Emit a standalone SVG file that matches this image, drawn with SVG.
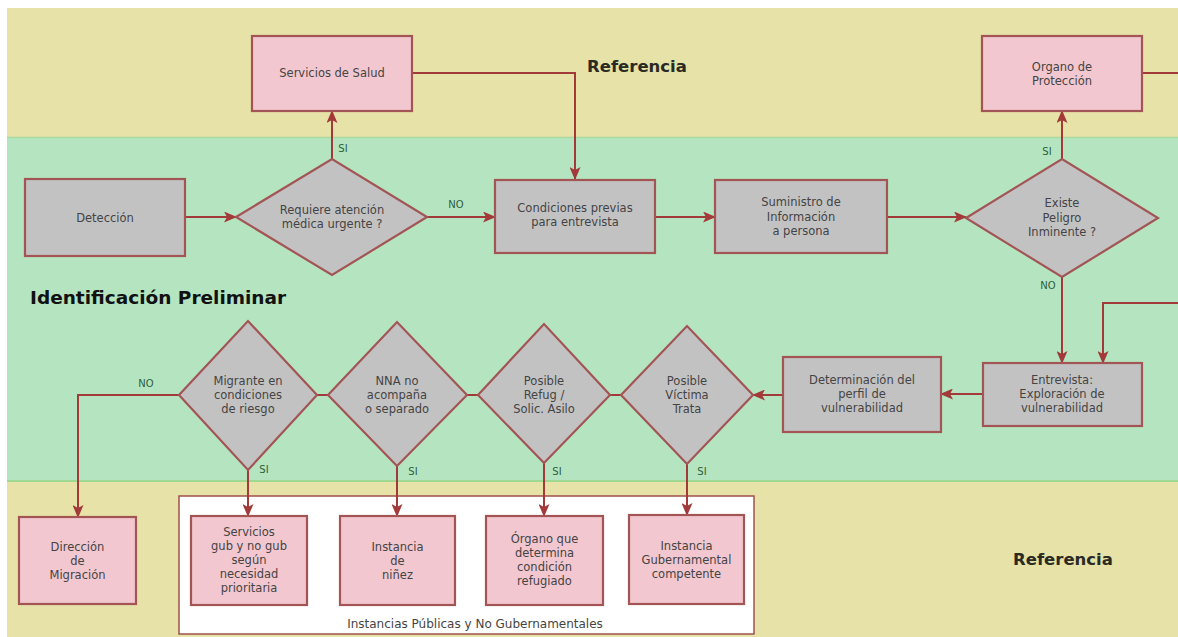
<svg xmlns="http://www.w3.org/2000/svg" width="1178" height="637" viewBox="0 0 1178 637">
<defs>
<marker id="ah" markerWidth="13" markerHeight="11" refX="12" refY="5.5" orient="auto" markerUnits="userSpaceOnUse">
<path d="M0,0 L13,5.5 L0,11 L3,5.5 Z" fill="#a23a3a"/>
</marker>
<style>
.band-y{fill:#e6e2a8}
.band-g{fill:#b5e5c0}
.box{stroke:#a35454;stroke-width:2.2}
.grey{fill:#c3c2c3}
.pink{fill:#f3c7cf}
.t{font-family:"DejaVu Sans",sans-serif;font-size:11.5px;fill:#444;text-anchor:middle}
.lbl{font-family:"DejaVu Sans",sans-serif;font-size:10px;fill:#2f5e3a;text-anchor:middle}
.ref{font-family:"DejaVu Sans",sans-serif;font-size:16.5px;font-weight:bold;fill:#2a2a22}
.c{fill:none;stroke:#a23a3a;stroke-width:2}
.ca{fill:none;stroke:#a23a3a;stroke-width:2;marker-end:url(#ah)}
</style>
</defs>
<rect width="1178" height="637" fill="#ffffff"/>
<g id="bands">
<rect class="band-y" x="7" y="8" width="1171" height="129"/>
<rect class="band-g" x="7" y="137" width="1171" height="344"/>
<rect class="band-y" x="7" y="481" width="1171" height="156"/>
<line x1="7" y1="137.5" x2="1178" y2="137.5" stroke="#a9d9a0" stroke-width="1.5"/>
<line x1="7" y1="481" x2="1178" y2="481" stroke="#9fd890" stroke-width="2"/>
<text class="ref" x="587" y="72">Referencia</text>
<text class="ref" x="1013" y="565">Referencia</text>
<text x="30" y="304" font-family="DejaVu Sans, sans-serif" font-size="18.5" font-weight="bold" fill="#111">Identificación Preliminar</text>
</g>
<g id="container">
<rect x="179" y="496" width="575" height="138" fill="#ffffff" stroke="#a0524a" stroke-width="1.5"/>
<text class="t" x="475" y="628" style="font-size:12px">Instancias Públicas y No Gubernamentales</text>
</g>
<g id="connectors">
<path class="ca" d="M185,217 H236"/>
<path class="ca" d="M332,159 V111"/>
<path class="ca" d="M427,217 H495"/>
<path class="ca" d="M412,73 H575 V179"/>
<path class="ca" d="M655,217 H715"/>
<path class="ca" d="M887,217 H966"/>
<path class="ca" d="M1062,159 V111"/>
<path class="c" d="M1142,73 H1178"/>
<path class="ca" d="M1062,277 V363"/>
<path class="ca" d="M1178,303 H1103 V363"/>
<path class="ca" d="M983,394 H941"/>
<path class="ca" d="M783,395 H753"/>
<path class="c" d="M610,395 H621"/>
<path class="c" d="M467,395 H478"/>
<path class="c" d="M317,395 H328"/>
<path class="ca" d="M179,395 H78 V517"/>
<path class="ca" d="M248,470 V516"/>
<path class="ca" d="M397,466 V516"/>
<path class="ca" d="M544,463 V516"/>
<path class="ca" d="M687,464 V515"/>
<text class="lbl" x="343" y="152">SI</text>
<text class="lbl" x="456" y="208">NO</text>
<text class="lbl" x="1047" y="155">SI</text>
<text class="lbl" x="1048" y="289">NO</text>
<text class="lbl" x="146" y="387">NO</text>
<text class="lbl" x="264" y="473">SI</text>
<text class="lbl" x="413" y="475">SI</text>
<text class="lbl" x="557" y="475">SI</text>
<text class="lbl" x="702" y="475">SI</text>
</g>
<g id="deteccion">
<rect class="box grey" x="25" y="179" width="160" height="77"/>
<text class="t" x="105" y="222">Detección</text>
</g>
<g id="servicios-salud">
<rect class="box pink" x="252" y="36" width="160" height="75"/>
<text class="t" x="332" y="77">Servicios de Salud</text>
</g>
<g id="requiere">
<polygon class="box grey" points="236,217 332,159 427,217 332,275"/>
<text class="t" x="332" y="214">Requiere atención</text>
<text class="t" x="332" y="228">médica urgente ?</text>
</g>
<g id="condiciones">
<rect class="box grey" x="495" y="180" width="160" height="73"/>
<text class="t" x="575" y="212">Condiciones previas</text>
<text class="t" x="575" y="226">para entrevista</text>
</g>
<g id="suministro">
<rect class="box grey" x="715" y="180" width="172" height="73"/>
<text class="t" x="801" y="206">Suministro de</text>
<text class="t" x="801" y="221">Información</text>
<text class="t" x="801" y="235">a persona</text>
</g>
<g id="existe">
<polygon class="box grey" points="966,218 1062,159 1158,218 1062,277"/>
<text class="t" x="1062" y="207">Existe</text>
<text class="t" x="1062" y="222">Peligro</text>
<text class="t" x="1062" y="236">Inminente ?</text>
</g>
<g id="organo-proteccion">
<rect class="box pink" x="982" y="36" width="160" height="75"/>
<text class="t" x="1062" y="71">Organo de</text>
<text class="t" x="1062" y="85">Protección</text>
</g>
<g id="entrevista">
<rect class="box grey" x="983" y="363" width="159" height="63"/>
<text class="t" x="1062" y="384">Entrevista:</text>
<text class="t" x="1062" y="398">Exploración de</text>
<text class="t" x="1062" y="412">vulnerabilidad</text>
</g>
<g id="determinacion">
<rect class="box grey" x="783" y="357" width="158" height="75"/>
<text class="t" x="862" y="384">Determinación del</text>
<text class="t" x="862" y="398">perfil de</text>
<text class="t" x="862" y="412">vulnerabilidad</text>
</g>
<g id="victima">
<polygon class="box grey" points="621,395 687,326 753,395 687,464"/>
<text class="t" x="687" y="385">Posible</text>
<text class="t" x="687" y="399">Víctima</text>
<text class="t" x="687" y="413">Trata</text>
</g>
<g id="refugio">
<polygon class="box grey" points="478,395 544,324 610,395 544,463"/>
<text class="t" x="544" y="385">Posible</text>
<text class="t" x="544" y="399">Refug /</text>
<text class="t" x="544" y="413">Solic. Asilo</text>
</g>
<g id="nna">
<polygon class="box grey" points="328,395 397,322 467,395 397,466"/>
<text class="t" x="397" y="385">NNA no</text>
<text class="t" x="397" y="399">acompaña</text>
<text class="t" x="397" y="413">o separado</text>
</g>
<g id="migrante">
<polygon class="box grey" points="179,395 248,321 317,395 248,470"/>
<text class="t" x="248" y="385">Migrante en</text>
<text class="t" x="248" y="399">condiciones</text>
<text class="t" x="248" y="413">de riesgo</text>
</g>
<g id="direccion-migracion">
<rect class="box pink" x="19" y="517" width="117" height="87"/>
<text class="t" x="77.5" y="551">Dirección</text>
<text class="t" x="77.5" y="565">de</text>
<text class="t" x="77.5" y="579">Migración</text>
</g>
<g id="servicios-gub">
<rect class="box pink" x="191" y="516" width="116" height="89"/>
<text class="t" x="249" y="536">Servicios</text>
<text class="t" x="249" y="550">gub y no gub</text>
<text class="t" x="249" y="564">según</text>
<text class="t" x="249" y="578">necesidad</text>
<text class="t" x="249" y="592">prioritaria</text>
</g>
<g id="instancia-ninez">
<rect class="box pink" x="340" y="516" width="115" height="89"/>
<text class="t" x="397.5" y="551">Instancia</text>
<text class="t" x="397.5" y="565">de</text>
<text class="t" x="397.5" y="579">niñez</text>
</g>
<g id="organo-refugiado">
<rect class="box pink" x="486" y="516" width="117" height="89"/>
<text class="t" x="544.5" y="543">Órgano que</text>
<text class="t" x="544.5" y="557">determina</text>
<text class="t" x="544.5" y="571">condición</text>
<text class="t" x="544.5" y="585">refugiado</text>
</g>
<g id="instancia-gub">
<rect class="box pink" x="629" y="515" width="115" height="89"/>
<text class="t" x="686.5" y="550">Instancia</text>
<text class="t" x="686.5" y="564">Gubernamental</text>
<text class="t" x="686.5" y="578">competente</text>
</g>
</svg>
